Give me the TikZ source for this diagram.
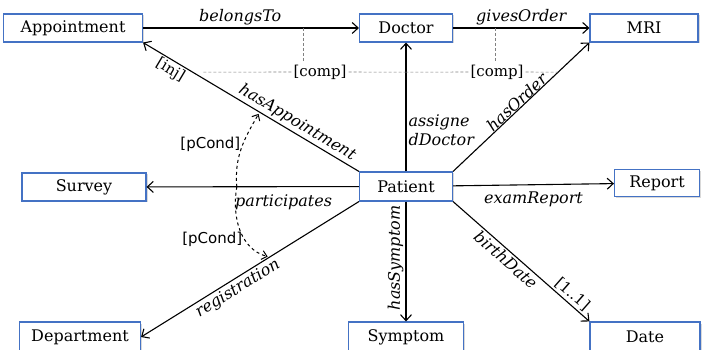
\documentclass[tikz,border=0pt]{standalone}
\usepackage{fontspec}
\setmainfont{DejaVu Serif}
\setsansfont{DejaVu Sans}
\usepackage{xcolor}
\usetikzlibrary{arrows.meta, positioning, shadows}

\definecolor{clsblue}{RGB}{68,114,196}

\begin{document}
\begin{tikzpicture}[
    x=1pt, y=-1pt,
    cls/.style={rectangle, draw=clsblue, fill=white, line width=1.1pt, minimum height=28pt, inner sep=2pt, font=\fontsize{16}{18}\selectfont, drop shadow={shadow xshift=1.5pt, shadow yshift=-1.5pt, opacity=0.3}},
    rel/.style={-{Straight Barb[length=6pt, width=11pt]}, line width=1.1pt},
    lbl/.style={font=\fontsize{16}{19}\selectfont\itshape, inner sep=2pt},
    ann/.style={font=\fontsize{15}{17}\selectfont, inner sep=2pt},
    cnd/.style={font=\sffamily\fontsize{15}{17}\selectfont, inner sep=2pt},
    cmp/.style={densely dashed, gray, line width=0.6pt},
    cond/.style={-{Straight Barb[length=5pt, width=9pt]}, dashed, line width=1pt}
]
\useasboundingbox (0,0) rectangle (702,350);

% classes
\node[cls, minimum width=139pt] (appointment) at (73,28) {Appointment};
\node[cls, minimum width=93pt] (doctor) at (406,28) {Doctor};
\node[cls, minimum width=108pt] (mri) at (644,28) {MRI};
\node[cls, minimum width=124pt] (survey) at (84,187) {Survey};
\node[cls, minimum width=93pt, minimum height=29pt] (patient) at (406,186.5) {Patient};
\node[cls, minimum width=85pt, minimum height=27pt] (report) at (657,183) {Report};
\node[cls, minimum width=121pt, minimum height=30pt] (department) at (80,337) {Department};
\node[cls, minimum width=115pt, minimum height=30pt] (symptom) at (406,337) {Symptom};
\node[cls, minimum width=110pt, minimum height=30pt] (date) at (645,337) {Date};

% relations
\draw[rel] (appointment) -- node[lbl, above, pos=0.45] {belongsTo} coordinate[pos=0.74] (bt) (doctor);
\draw[rel] (doctor) -- node[lbl, above] {givesOrder} coordinate[pos=0.31] (go) (mri);
\draw[rel] (patient) -- node[lbl, right, align=left, pos=0.32] {assigne\\dDoctor} coordinate[pos=0.77] (ad) (doctor);
\draw[rel] (patient.north east) -- node[lbl, sloped, above, inner sep=0pt] {hasOrder} coordinate[pos=0.77] (ho) (mri.south west);
\draw[rel] (patient.north west) -- node[lbl, sloped, above, pos=0.31] {hasAppointment} node[ann, sloped, below, pos=0.85] {[inj]} coordinate[pos=0.77] (ha) coordinate[pos=0.46] (hc) (appointment.south east);
\draw[rel] (patient) -- node[lbl, below, pos=0.355, yshift=-5pt] {participates} coordinate[pos=0.575] (pc) (survey);
\draw[rel] (patient) -- node[lbl, below, yshift=-5pt] {examReport} (report);
\draw[rel] (patient.south west) -- node[lbl, sloped, below, pos=0.58] {registration} coordinate[pos=0.41] (rc) (department.east);
\draw[rel] (patient) -- node[lbl, rotate=90, anchor=south, pos=0.47] {hasSymptom} (symptom);
\draw[rel] (patient.south east) -- node[lbl, sloped, below, pos=0.43] {birthDate} node[ann, sloped, above, pos=0.83] {[1..1]} (date.north west);

% compositions
\node[ann] (comp1) at (320,72) {[comp]};
\node[ann] (comp2) at (497,72) {[comp]};
\draw[cmp] (bt) -- (bt |- comp1.north);
\draw[cmp] (go) -- (go |- comp2.north);
\draw[cmp, shorten >=9pt] (comp1.west) -- (ha);
\draw[cmp] (comp1.east) -- (ad);
\draw[cmp] (comp2.west) -- (ad);
\draw[cmp] (comp2.east) -- (ho);

% conditions
\draw[cond, shorten >=2pt] (pc) to[out=95, in=240] node[cnd, left, pos=0.55] {[pCond]} (hc);
\draw[cond, shorten >=2pt] (pc) to[out=-100, in=165] node[cnd, left, pos=0.62] {[pCond]} (rc);

\end{tikzpicture}
\end{document}
